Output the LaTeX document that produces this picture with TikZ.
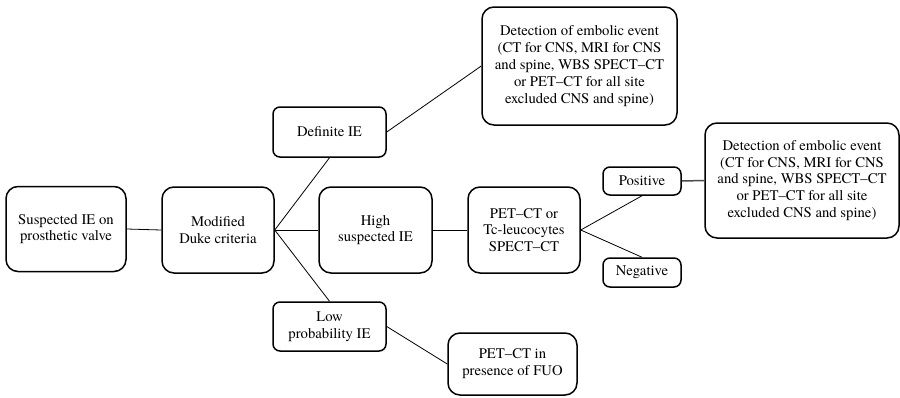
\documentclass[tikz,border=0pt]{standalone}
\usepackage{fontspec}
\setmainfont{texgyretermes}[Extension=.otf, UprightFont=*-regular, Ligatures=TeX]
\begin{document}
\begin{tikzpicture}[x=1pt,y=-1pt,
  box/.style={draw=black, line width=1.5pt, rounded corners=12pt, align=center,
    inner sep=0pt, font=\rmfamily\fontsize{14.7}{16.8}\selectfont},
  smallbox/.style={box, rounded corners=7pt},
  link/.style={draw=black, line width=0.8pt}]
\useasboundingbox (0,0) rectangle (900,397);

\node[box, minimum width=120pt, minimum height=85pt] (susp) at (66,229)
  {Suspected IE on\\prosthetic valve};
\node[box, minimum width=112pt, minimum height=86pt] (duke) at (218,230)
  {Modified\\Duke criteria};
\node[smallbox, minimum width=113pt, minimum height=50pt] (def) at (329.5,132)
  {Definite IE};
\node[box, minimum width=195pt, minimum height=118pt] (det1) at (579.5,66)
  {Detection of embolic event\\(CT for CNS, MRI for CNS\\and spine, WBS SPECT–CT\\or PET–CT for all site\\excluded CNS and spine)};
\node[box, minimum width=113pt, minimum height=86pt] (high) at (375.5,230)
  {High\\suspected IE};
\node[box, minimum width=112pt, minimum height=86pt] (pet) at (524,230)
  {PET–CT or\\Tc-leucocytes\\SPECT–CT};
\node[smallbox, minimum width=78pt, minimum height=28pt] (pos) at (642,181)
  {Positive};
\node[smallbox, minimum width=78pt, minimum height=29pt] (neg) at (642,272.5)
  {Negative};
\node[box, minimum width=194pt, minimum height=115pt] (det2) at (802,180.5)
  {Detection of embolic event\\(CT for CNS, MRI for CNS\\and spine, WBS SPECT–CT\\or PET–CT for all site\\excluded CNS and spine)};
\node[smallbox, minimum width=113pt, minimum height=49pt] (low) at (329.5,326.5)
  {Low\\probability IE};
\node[box, minimum width=129pt, minimum height=62pt] (fuo) at (512.5,364)
  {PET–CT in\\presence of FUO};

\draw[link] (susp.east) -- (duke.west);
\draw[link] (duke.east) -- (def.south);
\draw[link] (duke.east) -- (high.west);
\draw[link] (duke.east) -- (low.north);
\draw[link] (def.east) -- (det1.west);
\draw[link] (high.east) -- (pet.west);
\draw[link] (pet.east) -- (pos.south);
\draw[link] (pet.east) -- (neg.north);
\draw[link, line width=1.5pt, draw=black!70] (pos.east) -- (det2.west);
\draw[link] (low.east) -- (fuo.west);
\end{tikzpicture}
\end{document}
